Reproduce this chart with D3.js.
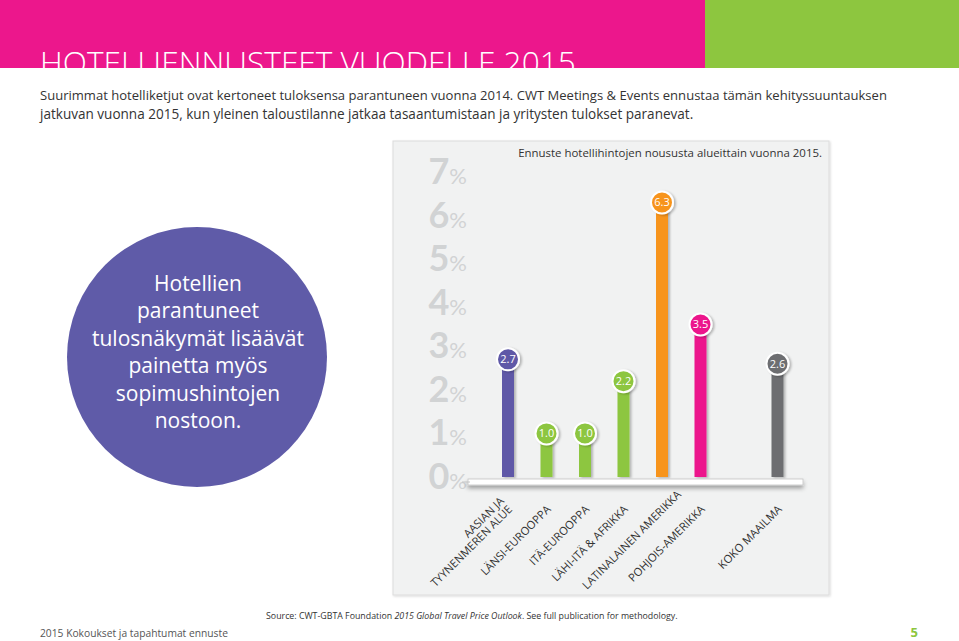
<!DOCTYPE html>
<html><head><meta charset="utf-8">
<script src="https://cdn.jsdelivr.net/npm/d3@7"></script>
<style>
html,body{margin:0;padding:0;background:#fff;}
svg{display:block;}
text{font-family:"Open Sans","Noto Sans",sans-serif;}
</style></head>
<body>
<svg id="c" width="959" height="641"></svg>
<script>
// ---- data ----
const categories = ["AASIAN JA|TYYNENMEREN ALUE","LÄNSI-EUROOPPA","ITÄ-EUROOPPA","LÄHI-ITÄ & AFRIKKA","LATINALAINEN AMERIKKA","POHJOIS-AMERIKKA","KOKO MAAILMA"];
const values = [2.7, 1.0, 1.0, 2.2, 6.3, 3.5, 2.6];
const barColors = ["#5f59a7","#8dc63f","#8dc63f","#8dc63f","#f7941d","#ec178c","#6d6e71"];
const yTicks = [0,1,2,3,4,5,6,7];
const title = "HOTELLIENNUSTEET VUODELLE 2015";
const intro = ["Suurimmat hotelliketjut ovat kertoneet tuloksensa parantuneen vuonna 2014. CWT Meetings & Events ennustaa tämän kehityssuuntauksen",
               "jatkuvan vuonna 2015, kun yleinen taloustilanne jatkaa tasaantumistaan ja yritysten tulokset paranevat."];
const chartTitle = "Ennuste hotellihintojen noususta alueittain vuonna 2015.";
const bubbleLines = ["Hotellien","parantuneet","tulosnäkymät lisäävät","painetta myös","sopimushintojen","nostoon."];
const footer = "2015 Kokoukset ja tapahtumat ennuste";
const pageNo = "5";

const svg = d3.select("#c");
const defs = svg.append("defs");
const f1 = defs.append("filter").attr("id","sh").attr("x","-50%").attr("y","-50%").attr("width","200%").attr("height","200%");
f1.append("feDropShadow").attr("dx",2).attr("dy",1).attr("stdDeviation",1.2).attr("flood-color","#000").attr("flood-opacity",0.25);
const f2 = defs.append("filter").attr("id","shelf").attr("x","-10%").attr("y","-100%").attr("width","120%").attr("height","400%");
f2.append("feDropShadow").attr("dx",0).attr("dy",3).attr("stdDeviation",2).attr("flood-color","#000").attr("flood-opacity",0.35);
const f3 = defs.append("filter").attr("id","panel").attr("x","-5%").attr("y","-5%").attr("width","110%").attr("height","110%");
f3.append("feDropShadow").attr("dx",1).attr("dy",1).attr("stdDeviation",1).attr("flood-color","#000").attr("flood-opacity",0.15);
defs.append("clipPath").attr("id","hc").append("rect").attr("x",0).attr("y",0).attr("width",959).attr("height",68);

// fit a text element to a target width by adjusting its font size
function fit(t, target, base){
  t.attr("font-size", base);
  const w = t.node().getComputedTextLength();
  t.attr("font-size", base*target/w);
  return t;
}

// header
svg.append("rect").attr("x",0).attr("y",0).attr("width",705).attr("height",68).attr("fill","#ec178c");
svg.append("rect").attr("x",705).attr("y",0).attr("width",254).attr("height",68).attr("fill","#8dc63f");
const tt = svg.append("text").attr("x",40).attr("y",74).attr("clip-path","url(#hc)")
  .attr("font-family","Lato, 'Open Sans', sans-serif").attr("font-weight",300)
  .attr("fill","#fff").text(title);
fit(tt, 536, 37);

// intro
const introW = [848, 654];
intro.forEach((t,i)=>{
  const e = svg.append("text").attr("x",40).attr("y",100+i*18.5).attr("fill","#333")
    .attr("font-family","'Liberation Sans Narrow','Open Sans',sans-serif").text(t);
  fit(e, introW[i], 15);
});

// bubble
svg.append("circle").attr("cx",197).attr("cy",357).attr("r",130).attr("fill","#5f5ba8");
bubbleLines.forEach((t,i)=>{
  svg.append("text").attr("x",198).attr("y",291+i*27.4).attr("text-anchor","middle")
    .attr("font-size",21).attr("fill","#fff").text(t);
});

// panel
svg.append("rect").attr("x",393).attr("y",141).attr("width",436).attr("height",454)
  .attr("fill","#f1f2f2").attr("stroke","#dcdcdc").attr("stroke-width",1).attr("filter","url(#panel)");

const ct = svg.append("text").attr("x",822).attr("y",157).attr("text-anchor","end").attr("fill","#333").text(chartTitle);
fit(ct, 304, 13);

// scales
const y = d3.scaleLinear().domain([0,7]).range([477,172]);
const slots = categories.slice(0,6).concat(["__gap__", categories[6]]);
const x = d3.scalePoint().domain(slots).range([508,777.5]);

// y tick labels
const tk = svg.append("g");
yTicks.forEach(v=>{
  const t = tk.append("text").attr("x",467).attr("y",y(v)+12).attr("text-anchor","end").attr("fill","#d1d3d4");
  t.append("tspan").attr("font-size",36).attr("font-weight",700).attr("font-family","Lato,'Open Sans',sans-serif").text(v);
  t.append("tspan").attr("font-size",22).attr("font-family","Lato,'Open Sans',sans-serif").text("%");
});

// bars
const data = categories.map((c,i)=>({c, v:values[i], col:barColors[i]}));
const bw = 12;
svg.append("g").selectAll("rect").data(data).join("rect")
  .attr("x",d=>x(d.c)-bw/2).attr("y",d=>y(d.v)).attr("width",bw).attr("height",d=>y(0)-y(d.v))
  .attr("fill",d=>d.col).attr("filter","url(#sh)");

// shelf
svg.append("rect").attr("x",468).attr("y",479).attr("width",335).attr("height",6)
  .attr("fill","#fff").attr("stroke","#c4c4c4").attr("stroke-width",0.8).attr("filter","url(#shelf)");
svg.append("line").attr("x1",462).attr("x2",470).attr("y1",482).attr("y2",482).attr("stroke","#c4c4c4");

// value bubbles
const vb = svg.append("g").selectAll("g").data(data).join("g")
  .attr("transform",d=>`translate(${x(d.c)},${y(d.v)})`);
vb.append("circle").attr("r",11).attr("fill",d=>d.col).attr("stroke","#fff").attr("stroke-width",2).attr("filter","url(#sh)");
vb.append("text").attr("text-anchor","middle").attr("dy","0.36em").attr("font-size",11).attr("fill","#fff")
  .text(d=>d.v.toFixed(1));

// category labels
const lg = svg.append("g");
data.forEach(d=>{
  const lines = d.c.split("|");
  const ax = x(d.c)+5, ay = 510;
  const t = lg.append("text").attr("text-anchor","end").attr("font-size",11.2).attr("fill","#333")
    .attr("transform",`translate(${ax},${ay}) rotate(-45)`);
  lines.forEach((l,i)=>{
    t.append("tspan").attr("x",0).attr("y",(i-(lines.length-1))*11.5).text(l);
  });
  // keep long labels inside the panel: shift them along their own direction
  const len = d3.max(t.selectAll("tspan").nodes(), n=>n.getComputedTextLength());
  const startY = ay + len*Math.SQRT1_2;
  if (startY > 590) {
    const s = (startY-590)/Math.SQRT1_2;
    t.attr("transform",`translate(${ax + s*Math.SQRT1_2},${ay - s*Math.SQRT1_2}) rotate(-45)`);
  }
});

// source & footer
const src = svg.append("text").attr("x",266).attr("y",619).attr("fill","#333")
  .attr("font-family","'Liberation Sans Narrow','Open Sans',sans-serif");
src.append("tspan").text("Source: CWT-GBTA Foundation ");
src.append("tspan").attr("font-style","italic").text("2015 Global Travel Price Outlook");
src.append("tspan").text(". See full publication for methodology.");
fit(src, 412, 10);

const ft = svg.append("text").attr("x",40).attr("y",637).attr("fill","#555")
  .attr("font-family","'Liberation Sans Narrow','Open Sans',sans-serif").text(footer);
fit(ft, 188, 12.5);
svg.append("text").attr("x",918).attr("y",637).attr("text-anchor","end").attr("font-size",13).attr("font-weight",700)
  .attr("fill","#8dc63f").text(pageNo);
</script>
</body></html>
